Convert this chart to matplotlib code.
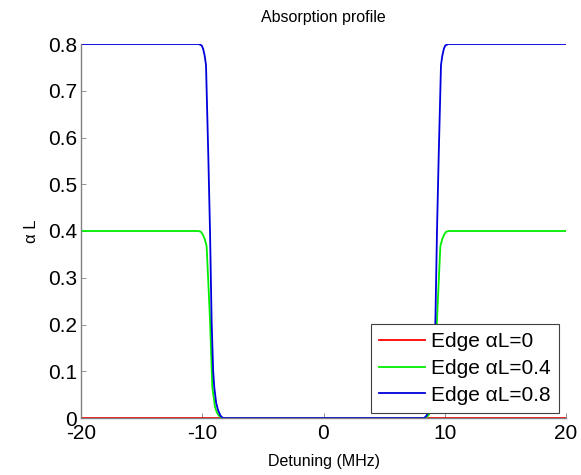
import matplotlib
matplotlib.use('Agg')
from matplotlib import pyplot as plt

plt.rcParams['font.family'] = ['Liberation Sans', 'DejaVu Sans']

# values
detuning_red = [-20, 20]
alpha_red = [0, 0]

detuning_green = [-20, -10.3, -10.1, -9.95, -9.8, -9.64, -9.5, -9.36, -9.17, -8.95, -8.8, -8.62, -8.4,
                  8.4, 8.62, 8.8, 8.95, 9.17, 9.36, 9.5, 9.64, 9.8, 9.95, 10.1, 10.3, 20]
alpha_green = [0.4, 0.4, 0.398, 0.392, 0.383, 0.368, 0.29, 0.21, 0.066, 0.024, 0.012, 0.005, 0,
               0, 0.005, 0.012, 0.024, 0.066, 0.21, 0.29, 0.368, 0.383, 0.392, 0.398, 0.4, 0.4]

detuning_blue = [-20, -10.3, -10.05, -9.93, -9.8, -9.69, -9.5, -9.36, -9.23, -9.1, -9.01, -8.85, -8.7, -8.5, -8.3,
                 8.3, 8.5, 8.7, 8.85, 9.01, 9.1, 9.23, 9.36, 9.5, 9.69, 9.8, 9.93, 10.05, 10.3, 20]
alpha_blue = [0.8, 0.8, 0.797, 0.79, 0.775, 0.755, 0.56, 0.40, 0.21, 0.10, 0.066, 0.032, 0.017, 0.005, 0,
              0, 0.005, 0.017, 0.032, 0.066, 0.10, 0.21, 0.40, 0.56, 0.755, 0.775, 0.79, 0.797, 0.8, 0.8]

labels = ['Edge \u03b1L=0', 'Edge \u03b1L=0.4', 'Edge \u03b1L=0.8']
xticks = [-20, -10, 0, 10, 20]
yticks = [0, 0.1, 0.2, 0.3, 0.4, 0.5, 0.6, 0.7, 0.8]
ytick_labels = ['0', '0.1', '0.2', '0.3', '0.4', '0.5', '0.6', '0.7', '0.8']

fig = plt.figure(figsize=(5.81, 4.75), dpi=100)
ax = fig.add_axes([81 / 581, 1 - 418 / 475, 485 / 581, 374 / 475])

ax.plot(detuning_red, alpha_red, color='#ff0000', lw=1.3, label=labels[0])
ax.plot(detuning_green, alpha_green, color='#00ee00', lw=1.3, label=labels[1])
ax.plot(detuning_blue, alpha_blue, color='#0000dd', lw=1.3, label=labels[2])

ax.set_xlim(-20, 20)
ax.set_ylim(0, 0.8)
ax.set_xticks(xticks)
ax.set_xticklabels([str(t) for t in xticks])
ax.set_yticks(yticks)
ax.set_yticklabels(ytick_labels)
ax.tick_params(direction='in', length=3.6, width=0.6, color='#808080', labelsize=15, pad=3)
ax.tick_params(axis='x', pad=4)

for side in ['top', 'right']:
    ax.spines[side].set_visible(False)
for side in ['left', 'bottom']:
    ax.spines[side].set_color('#808080')
    ax.spines[side].set_linewidth(1.0)

ax.set_title('Absorption profile', fontsize=11.5, pad=16)
ax.set_xlabel('Detuning (MHz)', fontsize=11.5, labelpad=8)
ax.set_ylabel('\u03b1 L', fontsize=12, labelpad=6)

leg = ax.legend(loc='lower right', bbox_to_anchor=(0.9856, 0.0134), borderaxespad=0,
                fontsize=15, fancybox=False, framealpha=1, edgecolor='#404040',
                handlelength=2.2, handletextpad=0.29, labelspacing=0.37, borderpad=0.4)
leg.get_frame().set_linewidth(0.8)

fig.savefig('out.png', dpi=100)
